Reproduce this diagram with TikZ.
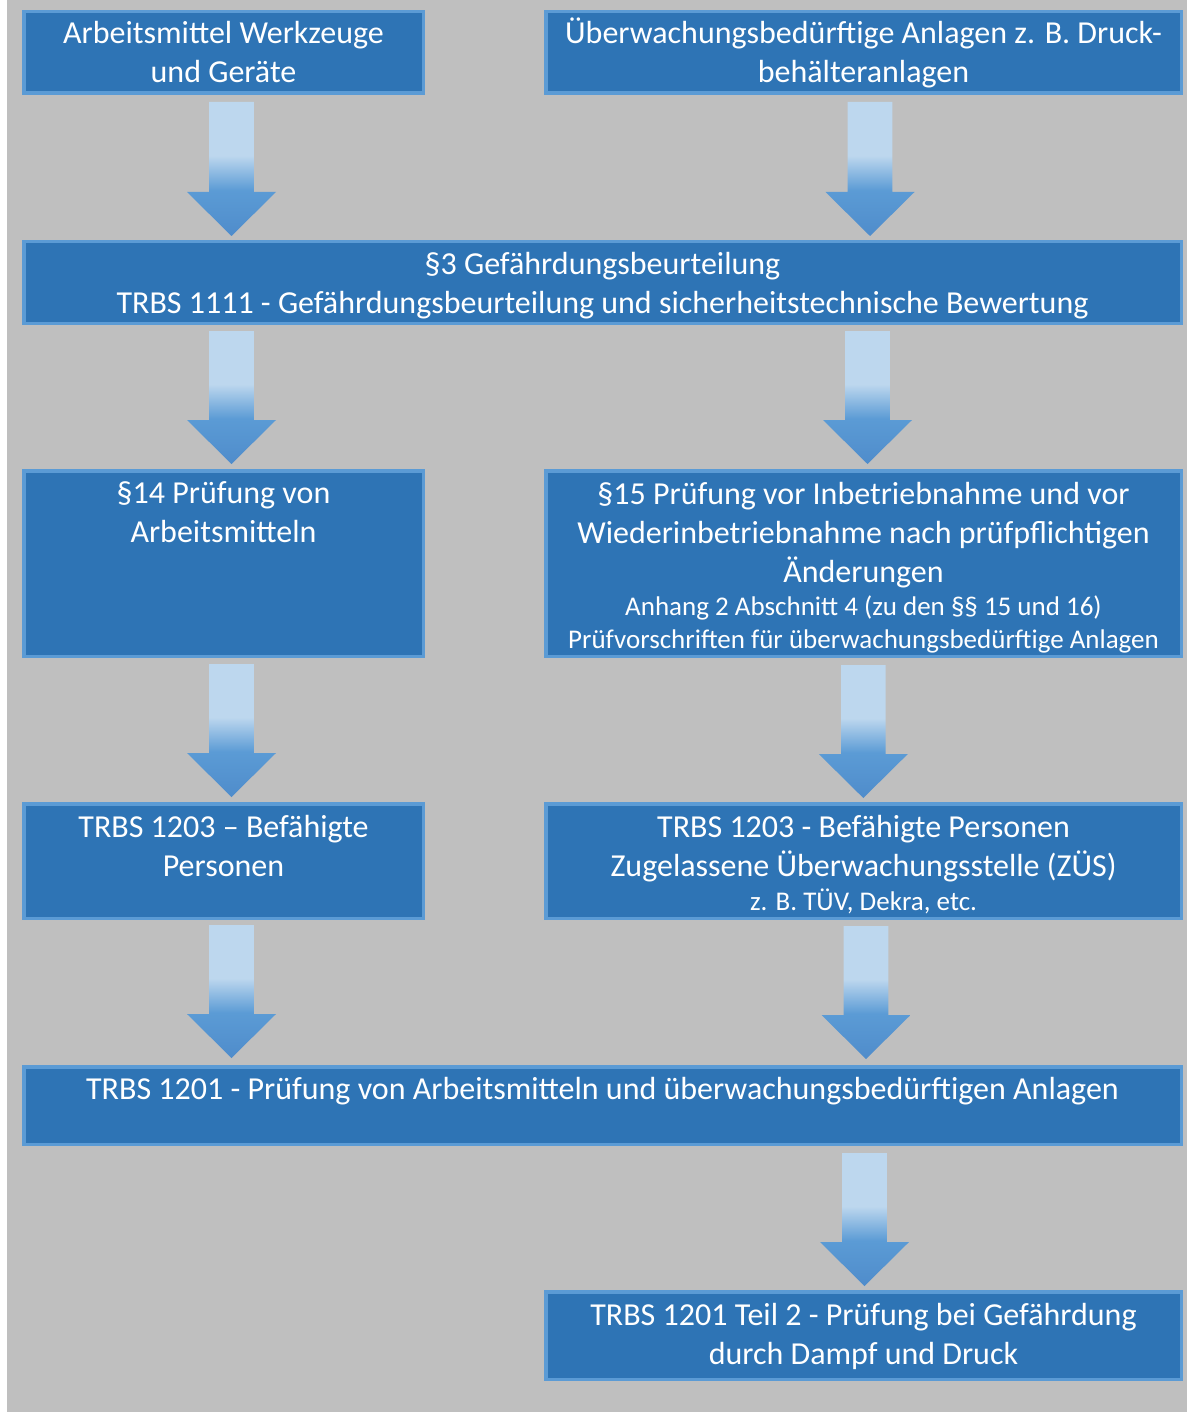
\documentclass[tikz,border=0pt]{standalone}
\usepackage{fontspec}
\setmainfont{Carlito}
\definecolor{bg}{HTML}{BFBFBF}
\definecolor{boxfill}{HTML}{2E74B5}
\definecolor{boxline}{HTML}{5B9BD5}
\definecolor{arrlight}{HTML}{BDD7EE}
\definecolor{arrblue}{HTML}{5B9BD5}
\definecolor{arrdark}{HTML}{4F8CCB}
\pgfdeclareverticalshading{arrshade}{100bp}{color(0bp)=(arrdark); color(25bp)=(arrdark); color(42bp)=(arrblue); color(55bp)=(arrlight); color(100bp)=(arrlight)}
\tikzset{
  box/.style={draw=boxline, fill=boxfill, line width=3.5pt, rectangle, inner sep=0pt, outer sep=0pt},
  big/.style={text=white, font=\fontsize{32}{39}\selectfont, align=center, anchor=base, inner sep=0pt},
  small/.style={text=white, font=\fontsize{27}{33}\selectfont, align=center, anchor=base, inner sep=0pt},
}
\newcommand{\downarr}[3]{%
  \shade[shading=arrshade] ({#1-22.3},#2) -- ({#1+22.3},#2) -- ({#1+22.3},{#3-44}) -- ({#1+44.5},{#3-44}) -- (#1,#3) -- ({#1-44.5},{#3-44}) -- ({#1-22.3},{#3-44}) -- cycle;}
\begin{document}
\begin{tikzpicture}[x=1pt,y=-1pt]
\useasboundingbox (0,0) rectangle (1187,1412);
\fill[white] (0,0) rectangle (1187,1412);
\fill[bg] (7,0) rectangle (1187,1412);

% boxes
\node[box, minimum width=399.5pt, minimum height=81.5pt] (b1) at (223.5,52.5) {};
\node[box, minimum width=635.5pt, minimum height=81.5pt] (b2) at (863.5,52.5) {};
\node[box, minimum width=1157.5pt, minimum height=81.5pt] (b3) at (602.5,282.5) {};
\node[box, minimum width=399.5pt, minimum height=185.5pt] (b4) at (223.5,563.5) {};
\node[box, minimum width=635.5pt, minimum height=185.5pt] (b5) at (863.5,563.5) {};
\node[box, minimum width=399.5pt, minimum height=114.5pt] (b6) at (223.5,861) {};
\node[box, minimum width=635.5pt, minimum height=114.5pt] (b7) at (863.5,861) {};
\node[box, minimum width=1157.5pt, minimum height=77.5pt] (b8) at (602.5,1105.5) {};
\node[box, minimum width=635.5pt, minimum height=87.5pt] (b9) at (863.5,1335.5) {};

% texts (anchor = baseline of the last line)
\node[big] (t1) at (223.5,83) {Arbeitsmittel Werkzeuge\\und Geräte};
\node[big] (t2) at (863.5,83) {Überwachungsbedürftige Anlagen z. B. Druck-\\behälteranlagen};
\node[big] (t3) at (602.5,313) {§3 Gefährdungsbeurteilung\\TRBS 1111 - Gefährdungsbeurteilung und sicherheitstechnische Bewertung};
\node[big] (t4) at (223.5,542) {§14 Prüfung von\\Arbeitsmitteln};
\node[big] (t5) at (863.5,582) {§15 Prüfung vor Inbetriebnahme und vor\\Wiederinbetriebnahme nach prüfpflichtigen\\Änderungen};
\node[small] (t5s) at (863.5,648) {Anhang 2 Abschnitt 4 (zu den §§ 15 und 16)\\Prüfvorschriften für überwachungsbedürftige Anlagen};
\node[big] (t6) at (223.5,876) {TRBS 1203 – Befähigte\\Personen};
\node[big] (t7) at (863.5,876) {TRBS 1203 - Befähigte Personen\\Zugelassene Überwachungsstelle (ZÜS)};
\node[small] (t7s) at (863.5,910) {z. B. TÜV, Dekra, etc.};
\node[big] (t8) at (602.5,1099) {TRBS 1201 - Prüfung von Arbeitsmitteln und überwachungsbedürftigen Anlagen};
\node[big] (t9) at (863.5,1364) {TRBS 1201 Teil 2 - Prüfung bei Gefährdung\\durch Dampf und Druck};

% arrows
\downarr{231.5}{102}{236}
\downarr{870}{102}{236}
\downarr{231.5}{331}{464}
\downarr{867.5}{331}{464}
\downarr{231.5}{664}{797}
\downarr{863.3}{665}{798}
\downarr{231.5}{925}{1058}
\downarr{866}{926}{1059}
\downarr{864.5}{1153}{1286}
\end{tikzpicture}
\end{document}
